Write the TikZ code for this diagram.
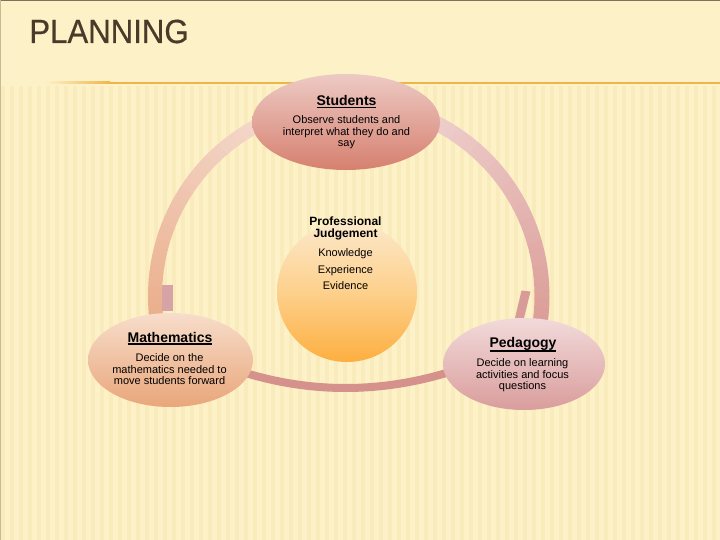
\documentclass[tikz,border=0pt]{standalone}
\usepackage{fontspec}
\setmainfont{Liberation Sans}
\newfontfamily\titlefont[FakeBold=0.5]{Liberation Sans}
\usetikzlibrary{shapes.geometric}
\definecolor{bg}{HTML}{FDF1C7}
\definecolor{stripe}{HTML}{F4DFA4}
\definecolor{titlec}{HTML}{4B3A2A}
\definecolor{gold}{HTML}{EFB54D}
\definecolor{cenTop}{HTML}{FCE8CA}
\definecolor{cenMid}{HTML}{FDD08C}
\definecolor{cenBot}{HTML}{FDAF40}
\definecolor{studTop}{HTML}{EDCAC4}
\definecolor{studBot}{HTML}{D6806F}
\definecolor{mathTop}{HTML}{F7DDCB}
\definecolor{mathBot}{HTML}{E9A67A}
\definecolor{pedTop}{HTML}{F2DADA}
\definecolor{pedBot}{HTML}{D99D9C}
\definecolor{arcLtop}{HTML}{F3D9CD}
\definecolor{arcLbot}{HTML}{EBAF8C}
\definecolor{arcRtop}{HTML}{EDCDCB}
\definecolor{arcRbot}{HTML}{DB9C96}
\definecolor{arcB}{HTML}{D5918B}
\definecolor{stubL}{HTML}{D6A3A6}
\definecolor{stubR}{HTML}{D99B97}
\newcommand\ulw[2]{\setbox0\hbox{#2}\rlap{\rule[-#1]{\wd0}{1.3pt}}\box0}
\begin{document}
\begin{tikzpicture}[x=1pt,y=-1pt,
  oval/.style={ellipse, inner sep=0, draw=none},
  ttl/.style={font=\fontsize{14}{16}\selectfont\bfseries, inner sep=0, anchor=base},
  body/.style={font=\fontsize{11}{11.5}\selectfont, align=center, inner sep=0},
]
\useasboundingbox (0,0) rectangle (720,540);
\fill[bg] (0,0) rectangle (720,540);
% background texture
\foreach \xx in {1,10,...,720} {
  \fill[stripe, opacity=0.3] (\xx,86) rectangle ++(4,454);
}
% frame edges
\draw[line width=1.5pt, color=titlec!70!bg] (0,0.75) -- (720,0.75);
\draw[line width=1pt, color=titlec!30!bg] (0.5,0) -- (0.5,540);
% title and rule
\node[font=\titlefont\fontsize{33.5}{36}\selectfont, text=titlec, inner sep=0, anchor=base] (title) at (109,43) {\scalebox{0.93}[1]{PLANNING}};
\fill[left color=bg, right color=gold] (46,82) rectangle (110,84);
\fill[gold] (110,82) rectangle (720,84);
% left arc
\foreach \i in {0,...,30} {
  \pgfmathsetmacro\a{114+2.35*\i}
  \pgfmathsetmacro\b{\a+2.6}
  \pgfmathsetmacro\p{100*\i/30}
  \draw[line width=14pt, color=arcLbot!\p!arcLtop] plot[domain=\a:\b, samples=4] ({348+193*cos(\x)},{296-193*sin(\x)});
}
% right arc
\foreach \i in {0,...,30} {
  \pgfmathsetmacro\a{64-2.4*\i}
  \pgfmathsetmacro\b{\a-2.6}
  \pgfmathsetmacro\p{100*\i/30}
  \draw[line width=15pt, color=arcRbot!\p!arcRtop] plot[domain=\a:\b, samples=4] ({348+194*cos(\x)},{296-194*sin(\x)});
}
% bottom arc
\draw[line width=8pt, color=arcB] (236,370) .. controls (308.7,394) and (382,394) .. (456,370);
% arrow stubs
\fill[stubL] (161.5,285) rectangle (173,311);
\fill[stubR] (521.5,290.5) -- (530.5,291.5) -- (524,318) -- (515,318) -- cycle;
% ovals
\node[oval, minimum width=188pt, minimum height=96pt, top color=studTop, bottom color=studBot] (students) at (346,122) {};
\node[oval, minimum width=165pt, minimum height=94pt, top color=mathTop, bottom color=mathBot] (maths) at (170.5,360) {};
\node[oval, minimum width=162pt, minimum height=92pt, top color=pedTop, bottom color=pedBot] (pedagogy) at (524,364) {};
\node[circle, inner sep=0, minimum size=140pt, top color=cenTop, bottom color=cenBot, middle color=cenMid] (centre) at (347,292) {};
% texts
\node[ttl] (studT) at (346.5,105.5) {\ulw{2.5pt}{Students}};
\node[body] (studB) at (346.5,132.3) {Observe students and\\interpret what they do and\\say};
\node[ttl] (mathT) at (170,342) {\ulw{2.6pt}{Mathematics}};
\node[body, font=\fontsize{11}{11.4}\selectfont] (mathB) at (169.5,369.3) {Decide on the\\mathematics needed to\\move students forward};
\node[ttl] (pedT) at (523,347.5) {\ulw{4.2pt}{Pedagogy}};
\node[body, font=\fontsize{11}{11.4}\selectfont] (pedB) at (522.5,375.3) {Decide on learning\\activities and focus\\questions};
\node[body, font=\fontsize{12}{12.6}\selectfont\bfseries] (profT) at (345.5,228.5) {Professional\\Judgement};
\node[body, font=\fontsize{11}{16.4}\selectfont] (profB) at (345.5,269.3) {Knowledge\\Experience\\Evidence};
\end{tikzpicture}
\end{document}
